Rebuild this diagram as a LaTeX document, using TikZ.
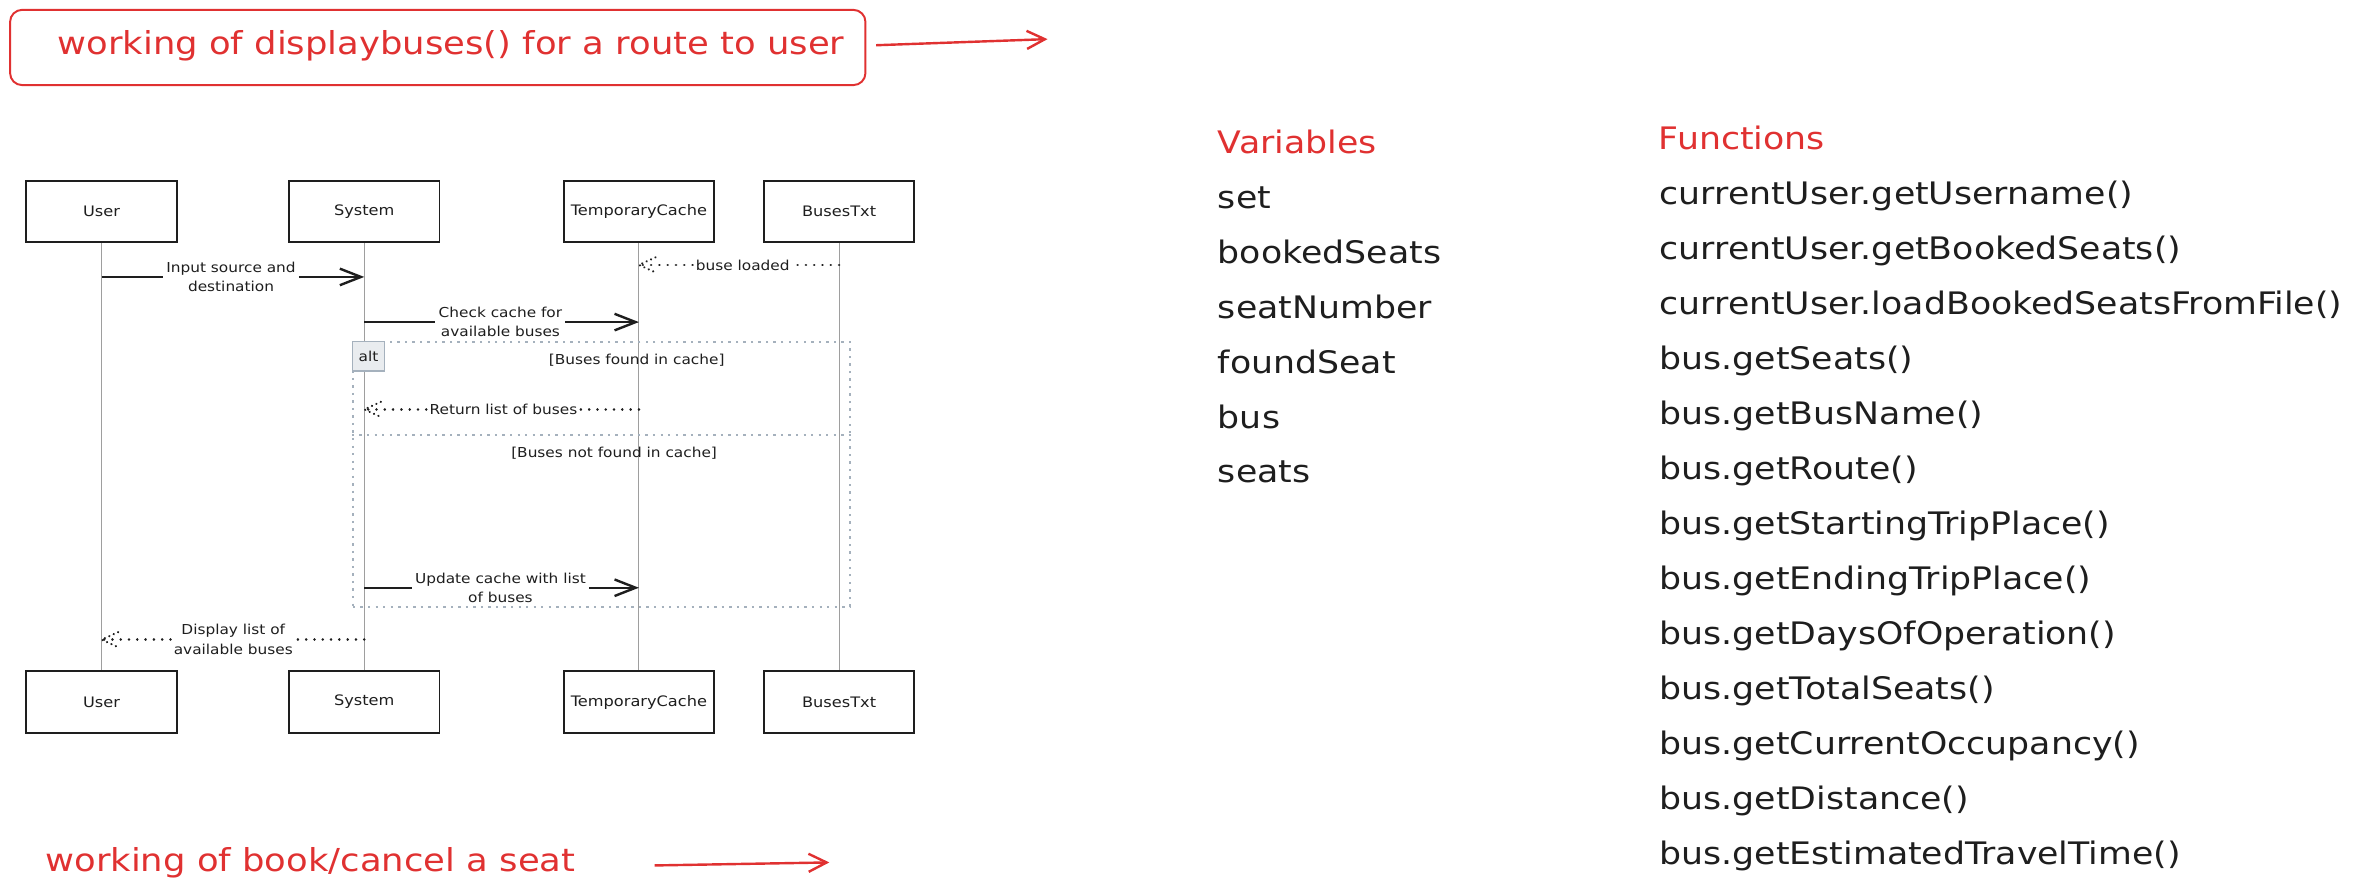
\documentclass[tikz,border=0pt]{standalone}
\usepackage{fontspec}
\setmainfont{DejaVu Sans}[FakeStretch=1.12]
\usetikzlibrary{arrows.meta}
\definecolor{ink}{HTML}{1E1E1E}
\definecolor{exred}{HTML}{E03131}
\definecolor{lifegray}{HTML}{9E9E9E}
\definecolor{framegray}{HTML}{A5B1BD}
\definecolor{tagfill}{HTML}{E9ECEF}
\newcommand{\fsz}[2]{\fontsize{#1}{#2}\selectfont}
\begin{document}
\begin{tikzpicture}[x=1pt,y=-1pt,
  actor/.style={draw=ink, line width=1.3pt, fill=white, minimum width=100pt,
    minimum height=41pt, inner sep=0pt, font=\fsz{9.6}{11}, text=ink},
  lifeline/.style={draw=lifegray, line width=0.75pt},
  msglabel/.style={font=\fsz{9.1}{13}, text=ink, align=center, inner sep=2pt},
  solidmsg/.style={draw=ink, line width=1.6pt},
  solidarrow/.style={solidmsg, -{Straight Barb[length=14pt,width=11pt]}},
  dotmsg/.style={draw=ink, line width=1.8pt, line cap=round, dash pattern=on 0.01pt off 5.5pt},
  dothead/.style={draw=ink, line width=1.6pt, line cap=round, dash pattern=on 0.01pt off 3.2pt},
  framedash/.style={draw=framegray, line width=1.3pt, dash pattern=on 1.6pt off 3.4pt},
  redarrow/.style={draw=exred, line width=1.6pt, -{Straight Barb[length=12pt,width=12pt]}},
  bigred/.style={anchor=base west, text=exred, font=\fsz{21}{25}, inner sep=0pt},
  listtext/.style={anchor=base west, font=\fsz{20.6}{24}, text=ink, inner sep=0pt}
]
\useasboundingbox (0,0) rectangle (1568,594);

% ---- title ----
\node[draw=exred, line width=1.3pt, rounded corners=8pt, minimum width=568.3pt,
      minimum height=50pt, inner sep=0pt] (titlebox) at (290.85,31.55) {};
\node[bigred] (titletext) at (38,36.5) {working of displaybuses() for a route to user};
\coordinate (titleend) at (696,26);
\draw[redarrow] ([xshift=6.5pt,yshift=1.5pt]titlebox.east) -- (titleend);

% ---- actors ----
\node[actor] (u1) at (67.5,140.5) {User};
\node[actor] (s1) at (242,140.5) {System};
\node[actor] (t1) at (424.5,140.5) {TemporaryCache};
\node[actor] (b1) at (557.5,140.5) {BusesTxt};
\node[actor] (u2) at (67.5,466.5) {User};
\node[actor] (s2) at (242,466.5) {System};
\node[actor] (t2) at (424.5,466.5) {TemporaryCache};
\node[actor] (b2) at (557.5,466.5) {BusesTxt};

\draw[lifeline] (u1.south) -- (u2.north);
\draw[lifeline] (s1.south) -- (s2.north);
\draw[lifeline] (t1.south) -- (t2.north);
\draw[lifeline] (b1.south) -- (b2.north);

% ---- alt frame ----
\node[framedash, minimum width=330pt, minimum height=176pt, inner sep=0pt] (altbox) at (399.5,315) {};
\draw[framedash] (altbox.west |- 0,289) -- (altbox.east |- 0,289);
\node[fill=tagfill, draw=framegray, line width=1pt, minimum width=21pt, minimum height=19.5pt,
      anchor=north west, inner sep=0pt, font=\fsz{9.1}{11}, text=ink] (alttag) at (altbox.north west) {alt};
\node[msglabel] (g1) at (423,239.5) {[Buses found in cache]};
\node[msglabel] (g2) at (408,301) {[Buses not found in cache]};

% ---- message 1 ----
\coordinate (m1s) at (u1 |- 0,184);
\coordinate (m1e) at (s1 |- 0,184);
\node[msglabel] (l1) at (153.5,184) {Input source and\\destination};
\draw[solidmsg] (m1s) -- (l1.west);
\draw[solidarrow] (l1.east) -- (m1e);

% ---- message 2 ----
\coordinate (m2s) at (b1 |- 0,176);
\coordinate (m2e) at (t1 |- 0,176);
\node[msglabel] (l2) at (493.5,176) {buse loaded};
\draw[dotmsg] (m2s) -- (l2.east);
\draw[dotmsg] (l2.west) -- (m2e);
\draw[dothead] (m2e) +(11,-5) -- (m2e) -- +(11,5);

% ---- message 3 ----
\coordinate (m3s) at (s1 |- 0,214);
\coordinate (m3e) at (t1 |- 0,214);
\node[msglabel] (l3) at (332.5,214) {Check cache for\\available buses};
\draw[solidmsg] (m3s) -- (l3.west);
\draw[solidarrow] (l3.east) -- (m3e);

% ---- message 4 ----
\coordinate (m4s) at (t1 |- 0,272);
\coordinate (m4e) at (s1 |- 0,272);
\node[msglabel] (l4) at (334.5,272) {Return list of buses};
\draw[dotmsg] (m4s) -- (l4.east);
\draw[dotmsg] (l4.west) -- (m4e);
\draw[dothead] (m4e) +(11,-5) -- (m4e) -- +(11,5);

% ---- message 5 ----
\coordinate (m5s) at (s1 |- 0,390.5);
\coordinate (m5e) at (t1 |- 0,390.5);
\node[msglabel] (l5) at (332.5,390.5) {Update cache with list\\of buses};
\draw[solidmsg] (m5s) -- (l5.west);
\draw[solidarrow] (l5.east) -- (m5e);

% ---- message 6 ----
\coordinate (m6s) at (s1 |- 0,425);
\coordinate (m6e) at (u1 |- 0,425);
\node[msglabel] (l6) at (155,425) {Display list of\\available buses};
\draw[dotmsg] (m6s) -- (l6.east);
\draw[dotmsg] (l6.west) -- (m6e);
\draw[dothead] (m6e) +(11,-5) -- (m6e) -- +(11,5);

% ---- bottom note ----
\node[bigred] (booktext) at (30,579) {working of book/cancel a seat};
\coordinate (bk1) at (435,575);
\coordinate (bk2) at (551,573);
\draw[redarrow] (bk1) -- (bk2);

% ---- lists ----
\node[listtext, text=exred] (varhead) at (809,101.8) {Variables};
\node[listtext, text=exred] (funchead) at (1102,99.2) {Functions};
\foreach \t [count=\i from 0] in {set,bookedSeats,seatNumber,foundSeat,bus,seats}
  \node[listtext] (v\i) at (809,138.4+36.5*\i) {\t};
\foreach \t [count=\i from 0] in {currentUser.getUsername(),currentUser.getBookedSeats(),
  currentUser.loadBookedSeatsFromFile(),bus.getSeats(),bus.getBusName(),bus.getRoute(),
  bus.getStartingTripPlace(),bus.getEndingTripPlace(),bus.getDaysOfOperation(),
  bus.getTotalSeats(),bus.getCurrentOccupancy(),bus.getDistance(),bus.getEstimatedTravelTime()}
  \node[listtext] (f\i) at (1102.5,136.2+36.5*\i) {\t};
\end{tikzpicture}
\end{document}
